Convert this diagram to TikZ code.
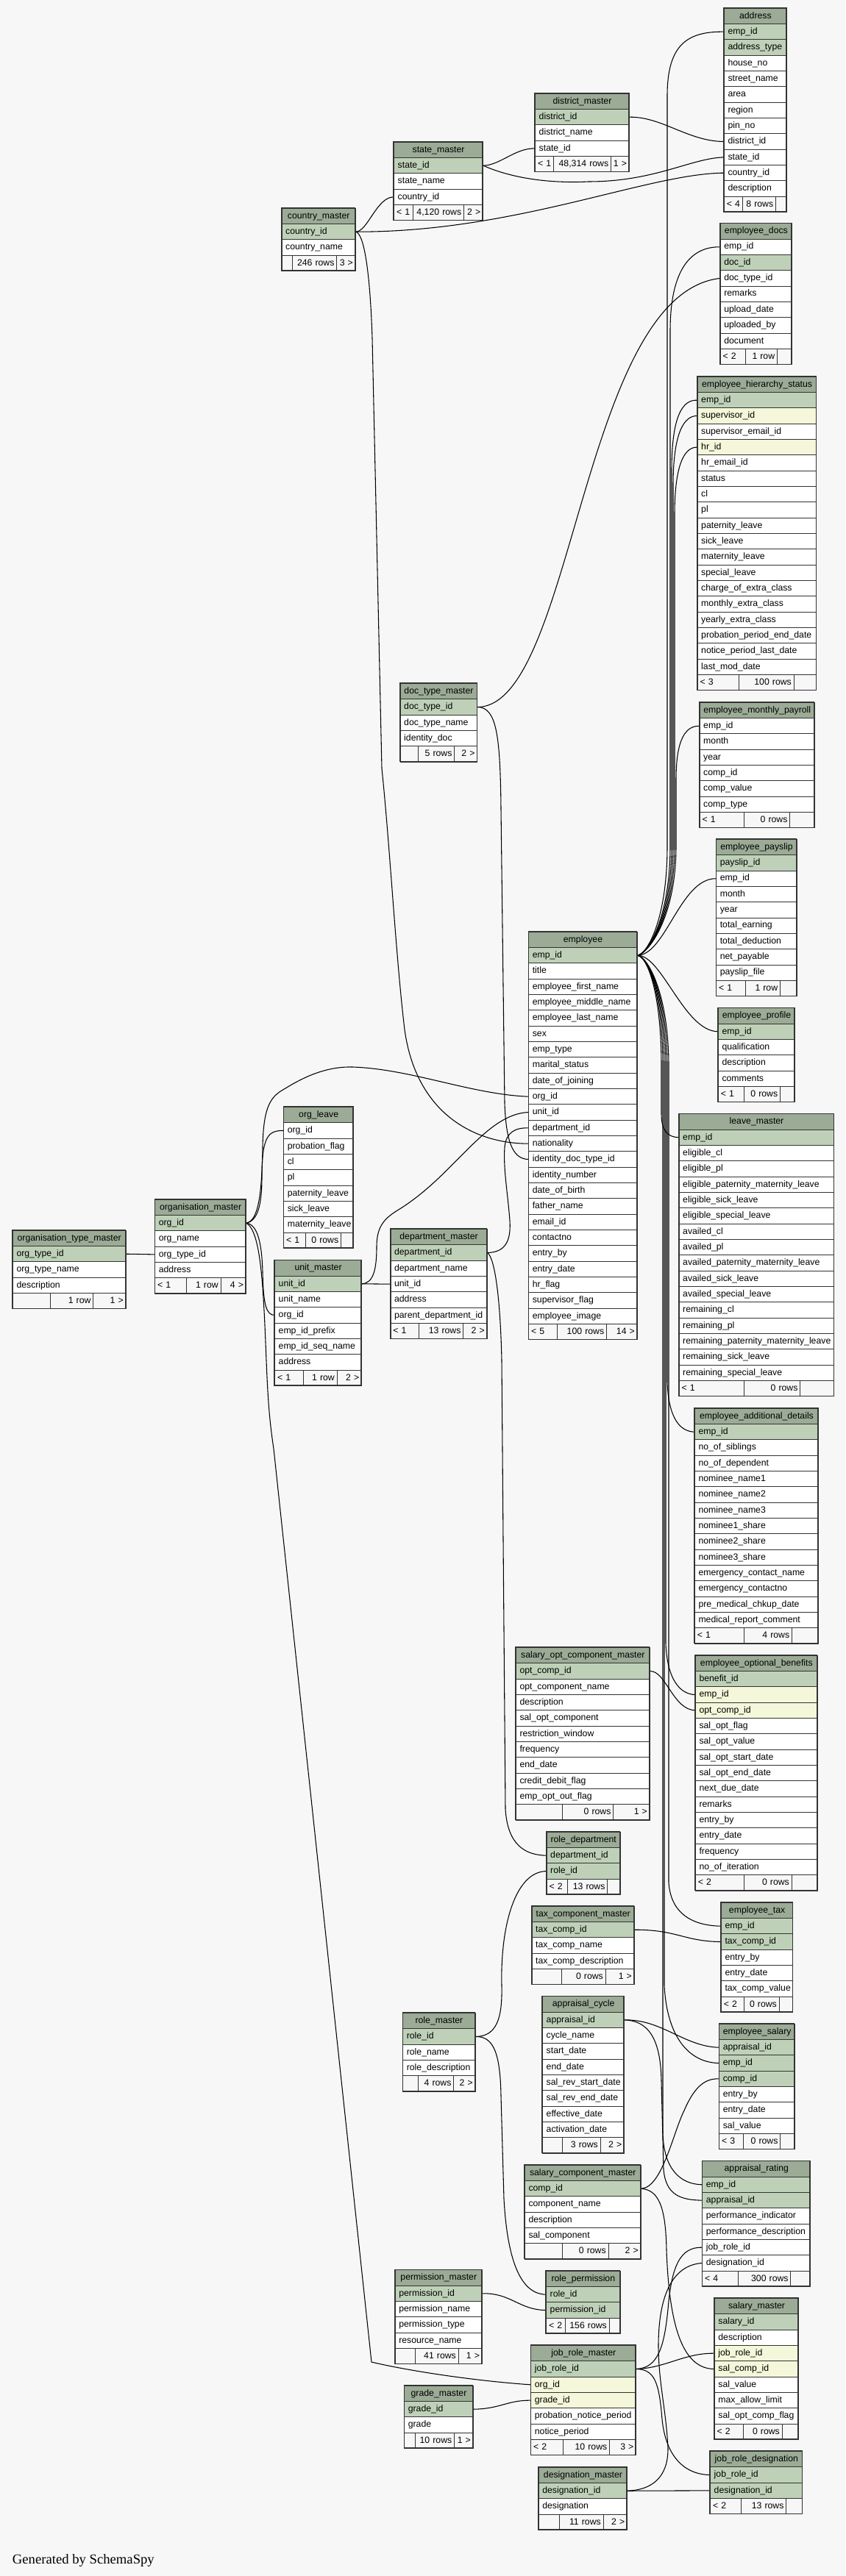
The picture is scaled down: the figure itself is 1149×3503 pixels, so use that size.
\documentclass[tikz,border=0pt]{standalone}
\usepackage{fontspec}
\setmainfont{Liberation Sans}
\newfontfamily\genfont{Liberation Serif}
\pgfdeclarelayer{bgl}
\pgfdeclarelayer{edl}
\pgfsetlayers{bgl,edl,main}
\definecolor{hdrc}{HTML}{9BAB96}
\definecolor{pkc}{HTML}{BED1B8}
\definecolor{ixc}{HTML}{F4F7DA}
\definecolor{bgc}{HTML}{F7F7F7}
\tikzset{
  cellb/.style={draw=black!80, line width=0.75pt, inner xsep=3.75pt, inner ysep=0pt,
    minimum height=16pt, text height=6.7pt, text depth=1.9pt,
    font=\fontsize{9.2}{11}\selectfont, anchor=north west},
  footb/.style={cellb, inner xsep=2.5pt, fill=bgc},
  tblout/.style={draw=black!80, line width=1.1pt},
  rel/.style={draw=black, line width=0.8pt},
}
\newcommand{\dbt}[5]{%
  \xdef\tbname{#1}\xdef\tbx{#2}\xdef\tby{#3}\xdef\tbw{#4}%
  \pgfmathsetlengthmacro\tw{#4*0.75pt-7.5pt}%
  \node[cellb,fill=hdrc,align=center,text width=\tw] (#1) at (#2,#3) {#1};%
  \foreach \kk/\cn [count=\i] in {#5}{%
    \pgfmathsetmacro\yy{#3+\i*21.3333}%
    \node[cellb,fill=\kk,align=left,text width=\tw] (#1-\cn) at (#2,\yy) {\cn};%
    \xdef\tbn{\i}%
  }%
}
\newcommand{\dbf}[5]{%
  \pgfmathsetmacro\yf{\tby+(\tbn+1)*21.3333}%
  \pgfmathsetlengthmacro\wa{(#1-\tbx)*0.75pt-5pt}%
  \pgfmathsetlengthmacro\wb{(#2-#1)*0.75pt-5pt}%
  \pgfmathsetlengthmacro\wc{(\tbx+\tbw-#2)*0.75pt-5pt}%
  \node[footb,align=left,text width=\wa] (\tbname-fl) at (\tbx,\yf) {\mbox{#3}};%
  \node[footb,align=right,text width=\wb] (\tbname-fm) at (#1,\yf) {\mbox{#4}};%
  \node[footb,align=right,text width=\wc] (\tbname-fr) at (#2,\yf) {\mbox{#5}};%
  \pgfmathsetmacro\yb{\yf+21.3333}%
  \pgfmathsetmacro\xr{\tbx+\tbw}%
  \draw[tblout] (\tbx,\tby) rectangle (\xr,\yb);%
}
\begin{document}
\catcode`\_=12
\begin{tikzpicture}[x=0.75pt,y=-0.75pt]
\useasboundingbox (0,0) rectangle (1149,3503);
\begin{pgfonlayer}{bgl}
\fill[bgc] (0,0) rectangle (1149,3503);
\end{pgfonlayer}

\dbt{address}{984}{10.7}{84.8}{pkc/emp_id,pkc/address_type,white/house_no,white/street_name,white/area,white/region,white/pin_no,white/district_id,white/state_id,white/country_id,white/description}
\dbf{1008.8}{1054}{< 4}{8 rows}{}

\dbt{district_master}{727.2}{126.7}{127.6}{pkc/district_id,white/district_name,white/state_id}
\dbf{752}{830}{< 1}{48,314 rows}{1 >}

\dbt{state_master}{535.2}{192.7}{120.8}{pkc/state_id,white/state_name,white/country_id}
\dbf{560.8}{630}{< 1}{4,120 rows}{2 >}

\dbt{country_master}{382.7}{282.7}{100}{pkc/country_id,white/country_name}
\dbf{397.3}{457.3}{}{246 rows}{3 >}

\dbt{employee_docs}{978.8}{303.3}{97.2}{white/emp_id,pkc/doc_id,white/doc_type_id,white/remarks,white/upload_date,white/uploaded_by,white/document}
\dbf{1013}{1056}{< 2}{1 row}{}

\dbt{employee_hierarchy_status}{947.7}{511.7}{161.6}{pkc/emp_id,ixc/supervisor_id,white/supervisor_email_id,ixc/hr_id,white/hr_email_id,white/status,white/cl,white/pl,white/paternity_leave,white/sick_leave,white/maternity_leave,white/special_leave,white/charge_of_extra_class,white/monthly_extra_class,white/yearly_extra_class,white/probation_period_end_date,white/notice_period_last_date,white/last_mod_date}
\dbf{1004}{1078.7}{< 3}{100 rows}{}

\dbt{employee_monthly_payroll}{950.7}{954.8}{156}{white/emp_id,white/month,white/year,white/comp_id,white/comp_value,white/comp_type}
\dbf{1010.7}{1073.3}{< 1}{0 rows}{}

\dbt{employee_payslip}{973.3}{1140.9}{109.4}{pkc/payslip_id,white/emp_id,white/month,white/year,white/total_earning,white/total_deduction,white/net_payable,white/payslip_file}
\dbf{1013.3}{1060}{< 1}{1 row}{}

\dbt{employee_profile}{976}{1370.3}{104}{pkc/emp_id,white/qualification,white/description,white/comments}
\dbf{1010.7}{1060}{< 1}{0 rows}{}

\dbt{doc_type_master}{543.7}{929}{104.6}{pkc/doc_type_id,white/doc_type_name,white/identity_doc}
\dbf{568}{617.3}{}{5 rows}{2 >}

\dbt{employee}{718.3}{1266.7}{147.4}{pkc/emp_id,white/title,white/employee_first_name,white/employee_middle_name,white/employee_last_name,white/sex,white/emp_type,white/marital_status,white/date_of_joining,white/org_id,white/unit_id,white/department_id,white/nationality,white/identity_doc_type_id,white/identity_number,white/date_of_birth,white/father_name,white/email_id,white/contactno,white/entry_by,white/entry_date,white/hr_flag,white/supervisor_flag,white/employee_image}
\dbf{757.3}{824}{< 5}{100 rows}{14 >}

\dbt{leave_master}{922.7}{1514.3}{210.6}{pkc/emp_id,white/eligible_cl,white/eligible_pl,white/eligible_paternity_maternity_leave,white/eligible_sick_leave,white/eligible_special_leave,white/availed_cl,white/availed_pl,white/availed_paternity_maternity_leave,white/availed_sick_leave,white/availed_special_leave,white/remaining_cl,white/remaining_pl,white/remaining_paternity_maternity_leave,white/remaining_sick_leave,white/remaining_special_leave}
\dbf{1010.7}{1087.3}{< 1}{0 rows}{}

\dbt{org_leave}{385.3}{1505}{94.7}{white/org_id,white/probation_flag,white/cl,white/pl,white/paternity_leave,white/sick_leave,white/maternity_leave}
\dbf{415.2}{463}{< 1}{0 rows}{}

\dbt{organisation_master}{210.3}{1630.7}{123.6}{pkc/org_id,white/org_name,white/org_type_id,white/address}
\dbf{252.7}{299.6}{< 1}{1 row}{4 >}

\dbt{organisation_type_master}{17}{1672.7}{153.5}{pkc/org_type_id,white/org_type_name,white/description}
\dbf{68.3}{126.3}{}{1 row}{1 >}

\dbt{unit_master}{373.2}{1713.3}{117.8}{pkc/unit_id,white/unit_name,white/org_id,white/emp_id_prefix,white/emp_id_seq_name,white/address}
\dbf{412}{457.6}{< 1}{1 row}{2 >}

\dbt{department_master}{530.6}{1671}{131}{pkc/department_id,white/department_name,white/unit_id,white/address,white/parent_department_id}
\dbf{569.3}{629.3}{< 1}{13 rows}{2 >}

\dbt{employee_additional_details}{944}{1914.7}{168}{pkc/emp_id,white/no_of_siblings,white/no_of_dependent,white/nominee_name1,white/nominee_name2,white/nominee_name3,white/nominee1_share,white/nominee2_share,white/nominee3_share,white/emergency_contact_name,white/emergency_contactno,white/pre_medical_chkup_date,white/medical_report_comment}
\dbf{1010.7}{1076}{< 1}{4 rows}{}

\dbt{salary_opt_component_master}{701}{2240}{181.7}{pkc/opt_comp_id,white/opt_component_name,white/description,white/sal_opt_component,white/restriction_window,white/frequency,white/end_date,white/credit_debit_flag,white/emp_opt_out_flag}
\dbf{764}{833.3}{}{0 rows}{1 >}

\dbt{employee_optional_benefits}{945}{2250.7}{165.7}{pkc/benefit_id,ixc/emp_id,ixc/opt_comp_id,white/sal_opt_flag,white/sal_opt_value,white/sal_opt_start_date,white/sal_opt_end_date,white/next_due_date,white/remarks,white/entry_by,white/entry_date,white/frequency,white/no_of_iteration}
\dbf{1010.7}{1075.7}{< 2}{0 rows}{}

\dbt{role_department}{742.7}{2490.7}{100}{pkc/department_id,pkc/role_id}
\dbf{770.7}{825.3}{< 2}{13 rows}{}

\dbt{employee_tax}{980}{2586.7}{97.3}{pkc/emp_id,pkc/tax_comp_id,white/entry_by,white/entry_date,white/tax_comp_value}
\dbf{1010.7}{1058.7}{< 2}{0 rows}{}

\dbt{tax_component_master}{722.7}{2591.7}{139}{pkc/tax_comp_id,white/tax_comp_name,white/tax_comp_description}
\dbf{763.3}{822.7}{}{0 rows}{1 >}

\dbt{appraisal_cycle}{737.2}{2714.3}{110.9}{pkc/appraisal_id,white/cycle_name,white/start_date,white/end_date,white/sal_rev_start_date,white/sal_rev_end_date,white/effective_date,white/activation_date}
\dbf{763.9}{815.6}{}{3 rows}{2 >}

\dbt{role_master}{547.3}{2737}{98.3}{pkc/role_id,white/role_name,white/role_description}
\dbf{567.7}{616.3}{}{4 rows}{2 >}

\dbt{employee_salary}{977.3}{2751.7}{102.3}{pkc/appraisal_id,pkc/emp_id,pkc/comp_id,white/entry_by,white/entry_date,white/sal_value}
\dbf{1010.2}{1060.3}{< 3}{0 rows}{}

\dbt{salary_component_master}{713}{2943.7}{157.6}{pkc/comp_id,white/component_name,white/description,white/sal_component}
\dbf{763.9}{826.5}{}{0 rows}{2 >}

\dbt{appraisal_rating}{954.4}{2938.3}{146.8}{pkc/emp_id,pkc/appraisal_id,white/performance_indicator,white/performance_description,white/job_role_id,white/designation_id}
\dbf{1002.5}{1074.4}{< 4}{300 rows}{}

\dbt{permission_master}{536.8}{3086.3}{118}{pkc/permission_id,white/permission_name,white/permission_type,white/resource_name}
\dbf{563.7}{622.7}{}{41 rows}{1 >}

\dbt{role_permission}{742.2}{3087.7}{100.3}{pkc/role_id,pkc/permission_id}
\dbf{768.3}{827.7}{< 2}{156 rows}{}

\dbt{job_role_master}{721.4}{3189}{142.8}{pkc/job_role_id,ixc/org_id,ixc/grade_id,white/probation_notice_period,white/notice_period}
\dbf{765.1}{828.1}{< 2}{10 rows}{3 >}

\dbt{grade_master}{549.3}{3243.7}{93.4}{pkc/grade_id,white/grade}
\dbf{564.1}{617.1}{}{10 rows}{1 >}

\dbt{designation_master}{731.8}{3354.7}{120.3}{pkc/designation_id,white/designation}
\dbf{759.9}{819.6}{}{11 rows}{2 >}

\dbt{salary_master}{970.9}{3125}{114.3}{pkc/salary_id,white/description,ixc/job_role_id,ixc/sal_comp_id,white/sal_value,white/max_allow_limit,white/sal_opt_comp_flag}
\dbf{1010.2}{1062.7}{< 2}{0 rows}{}

\dbt{job_role_designation}{965.2}{3333}{125.2}{pkc/job_role_id,pkc/designation_id}
\dbf{1006.6}{1068.3}{< 2}{13 rows}{}

\node[anchor=base west, inner sep=0pt, font=\genfont\fontsize{14}{16}\selectfont] (gen) at (16.7,3486.7) {Generated by SchemaSpy};

\begin{pgfonlayer}{edl}
% geography
\draw[rel] (country_master-country_id.east) .. controls (500,314.7) and (512,268) .. (state_master-country_id.west);
\draw[rel] (country_master-country_id.east) .. controls (700,316) and (880,236) .. (address-country_id.west);
\draw[rel] (country_master-country_id.east) .. controls (495,318) and (503,370) .. (506,460) -- (519,1045) .. controls (530,1150) and (538,1300) .. (550,1400) .. controls (565,1510) and (640,1555) .. (employee-nationality.west);
\draw[rel] (state_master-state_id.east) .. controls (680,224.7) and (700,201.3) .. (district_master-state_id.west);
\draw[rel] (state_master-state_id.east) .. controls (690,240) and (740,250) .. (800,247) .. controls (890,247) and (940,215) .. (address-state_id.west);
\draw[rel] (district_master-district_id.east) .. controls (900,158.7) and (935,192) .. (address-district_id.west);
% documents
\draw[rel] (doc_type_master-doc_type_id.east) .. controls (780,960) and (790,400) .. (employee_docs-doc_type_id.west);
\draw[rel] (doc_type_master-doc_type_id.east) .. controls (675,962) and (680,1000) .. (681,1100) -- (686,1500) .. controls (688,1560) and (700,1576) .. (employee-identity_doc_type_id.west);
% employee fan, upwards
\draw[rel] (employee-emp_id.east) .. controls (880,1297) and (907,1250) .. (907,1150) -- (907,130) .. controls (907,60) and (935,42.7) .. (address-emp_id.west);
\draw[rel] (employee-emp_id.east) .. controls (880,1297) and (911,1250) .. (911,1150) -- (911,450) .. controls (911,365) and (940,335.3) .. (employee_docs-emp_id.west);
\draw[rel] (employee-emp_id.east) .. controls (880,1297) and (913,1250) .. (913,1150) -- (913,640) .. controls (913,565) and (928,543.3) .. (employee_hierarchy_status-emp_id.west);
\draw[rel] (employee-emp_id.east) .. controls (880,1297) and (915,1250) .. (915,1150) -- (915,660) .. controls (915,588) and (930,565) .. (employee_hierarchy_status-supervisor_id.west);
\draw[rel] (employee-emp_id.east) .. controls (880,1297) and (917,1250) .. (917,1150) -- (917,700) .. controls (917,630) and (931,607.7) .. (employee_hierarchy_status-hr_id.west);
\draw[rel] (employee-emp_id.east) .. controls (880,1297) and (919,1250) .. (919,1150) -- (919,1060) .. controls (919,1005) and (932,986.8) .. (employee_monthly_payroll-emp_id.west);
\draw[rel] (employee-emp_id.east) .. controls (905,1298) and (925,1194.2) .. (employee_payslip-emp_id.west);
\draw[rel] (employee-emp_id.east) .. controls (900,1299) and (930,1402.3) .. (employee_profile-emp_id.west);
% employee fan, downwards
\draw[rel] (employee-emp_id.east) .. controls (880,1301) and (899,1350) .. (899,1450) -- (899,1515) .. controls (899,1538) and (908,1546.3) .. (leave_master-emp_id.west);
\draw[rel] (employee-emp_id.east) .. controls (880,1301) and (907,1350) .. (907,1450) -- (907,1880) .. controls (909,1930) and (925,1946.7) .. (employee_additional_details-emp_id.west);
\draw[rel] (employee-emp_id.east) .. controls (880,1301) and (905,1350) .. (905,1450) -- (905,2235) .. controls (907,2285) and (925,2304) .. (employee_optional_benefits-emp_id.west);
\draw[rel] (employee-emp_id.east) .. controls (880,1301) and (909,1350) .. (909,1450) -- (909,2560) .. controls (912,2605) and (945,2618.7) .. (employee_tax-emp_id.west);
\draw[rel] (employee-emp_id.east) .. controls (880,1301) and (903,1350) .. (903,1450) -- (903,2700) .. controls (907,2775) and (940,2805) .. (employee_salary-emp_id.west);
\draw[rel] (employee-emp_id.east) .. controls (880,1301) and (901,1350) .. (901,1450) -- (901,2900) .. controls (902,2950) and (925,2970.3) .. (appraisal_rating-emp_id.west);
% organisation
\draw[rel] (organisation_type_master-org_type_id.east) -- (organisation_master-org_type_id.west);
\draw[rel] (organisation_master-org_id.east) .. controls (350,1660) and (356,1640) .. (356,1600) .. controls (356,1545) and (365,1537) .. (org_leave-org_id.west);
\draw[rel] (organisation_master-org_id.east) .. controls (350,1665) and (356,1690) .. (357,1730) .. controls (358,1775) and (362,1788) .. (unit_master-org_id.west);
\draw[rel] (organisation_master-org_id.east) .. controls (350,1660) and (356,1630) .. (357,1560) .. controls (358,1500) and (370,1490) .. (388,1480) .. controls (420,1460) and (450,1450) .. (480,1451) .. controls (560,1454) and (640,1488) .. (employee-org_id.west);
\draw[rel] (organisation_master-org_id.east) .. controls (355,1675) and (358,1750) .. (362,1850) .. controls (364,1900) and (366,1930) .. (372,1970) -- (505,3212) .. controls (560,3225) and (650,3238) .. (job_role_master-org_id.west);
\draw[rel] (unit_master-unit_id.east) -- (department_master-unit_id.west);
\draw[rel] (unit_master-unit_id.east) .. controls (508,1745) and (512,1725) .. (512,1695) .. controls (512,1665) and (525,1655) .. (545,1643) .. controls (620,1595) and (660,1515) .. (employee-unit_id.west);
\draw[rel] (department_master-department_id.east) .. controls (685,1703) and (695,1690) .. (693,1660) .. controls (690,1620) and (684,1590) .. (686,1560) .. controls (688,1540) and (700,1533.3) .. (employee-department_id.west);
\draw[rel] (department_master-department_id.east) .. controls (672,1710) and (680,1760) .. (682,1850) -- (687,2460) .. controls (690,2510) and (715,2522.7) .. (role_department-department_id.west);
% roles
\draw[rel] (role_master-role_id.east) .. controls (675,2769) and (683,2745) .. (682,2700) .. controls (680,2620) and (700,2545) .. (role_department-role_id.west);
\draw[rel] (role_master-role_id.east) .. controls (670,2769) and (680,2790) .. (681,2850) -- (685,2990) .. controls (690,3080) and (710,3119.7) .. (role_permission-role_id.west);
\draw[rel] (permission_master-permission_id.east) .. controls (695,3118) and (705,3141) .. (role_permission-permission_id.west);
% salary
\draw[rel] (salary_opt_component_master-opt_comp_id.east) .. controls (905,2272) and (915,2325) .. (employee_optional_benefits-opt_comp_id.west);
\draw[rel] (tax_component_master-tax_comp_id.east) .. controls (920,2624) and (930,2640) .. (employee_tax-tax_comp_id.west);
\draw[rel] (appraisal_cycle-appraisal_id.east) .. controls (900,2746) and (930,2783) .. (employee_salary-appraisal_id.west);
\draw[rel] (appraisal_cycle-appraisal_id.east) .. controls (880,2748) and (898,2770) .. (899,2830) -- (902,2950) .. controls (905,2985) and (925,2991.6) .. (appraisal_rating-appraisal_id.west);
\draw[rel] (salary_component_master-comp_id.east) .. controls (900,2975) and (915,2900) .. (930,2870) .. controls (945,2835) and (960,2826.3) .. (employee_salary-comp_id.west);
\draw[rel] (salary_component_master-comp_id.east) .. controls (895,2978) and (905,3000) .. (906,3060) .. controls (910,3170) and (930,3221) .. (salary_master-sal_comp_id.west);
\draw[rel] (job_role_master-job_role_id.east) .. controls (895,3220) and (903,3190) .. (908,3140) .. controls (913,3080) and (925,3055.6) .. (appraisal_rating-job_role_id.west);
\draw[rel] (job_role_master-job_role_id.east) .. controls (905,3220) and (930,3199.7) .. (salary_master-job_role_id.west);
\draw[rel] (job_role_master-job_role_id.east) .. controls (890,3222) and (896,3240) .. (900,3290) .. controls (905,3340) and (930,3365) .. (job_role_designation-job_role_id.west);
\draw[rel] (designation_master-designation_id.east) -- (job_role_designation-designation_id.west);
\draw[rel] (designation_master-designation_id.east) .. controls (885,3386) and (908,3370) .. (908,3330) .. controls (906,3280) and (895,3240) .. (895,3190) .. controls (895,3120) and (915,3080) .. (appraisal_rating-designation_id.west);
\draw[rel] (grade_master-grade_id.east) .. controls (680,3275.7) and (690,3263.7) .. (job_role_master-grade_id.west);
\end{pgfonlayer}
\end{tikzpicture}
\end{document}
